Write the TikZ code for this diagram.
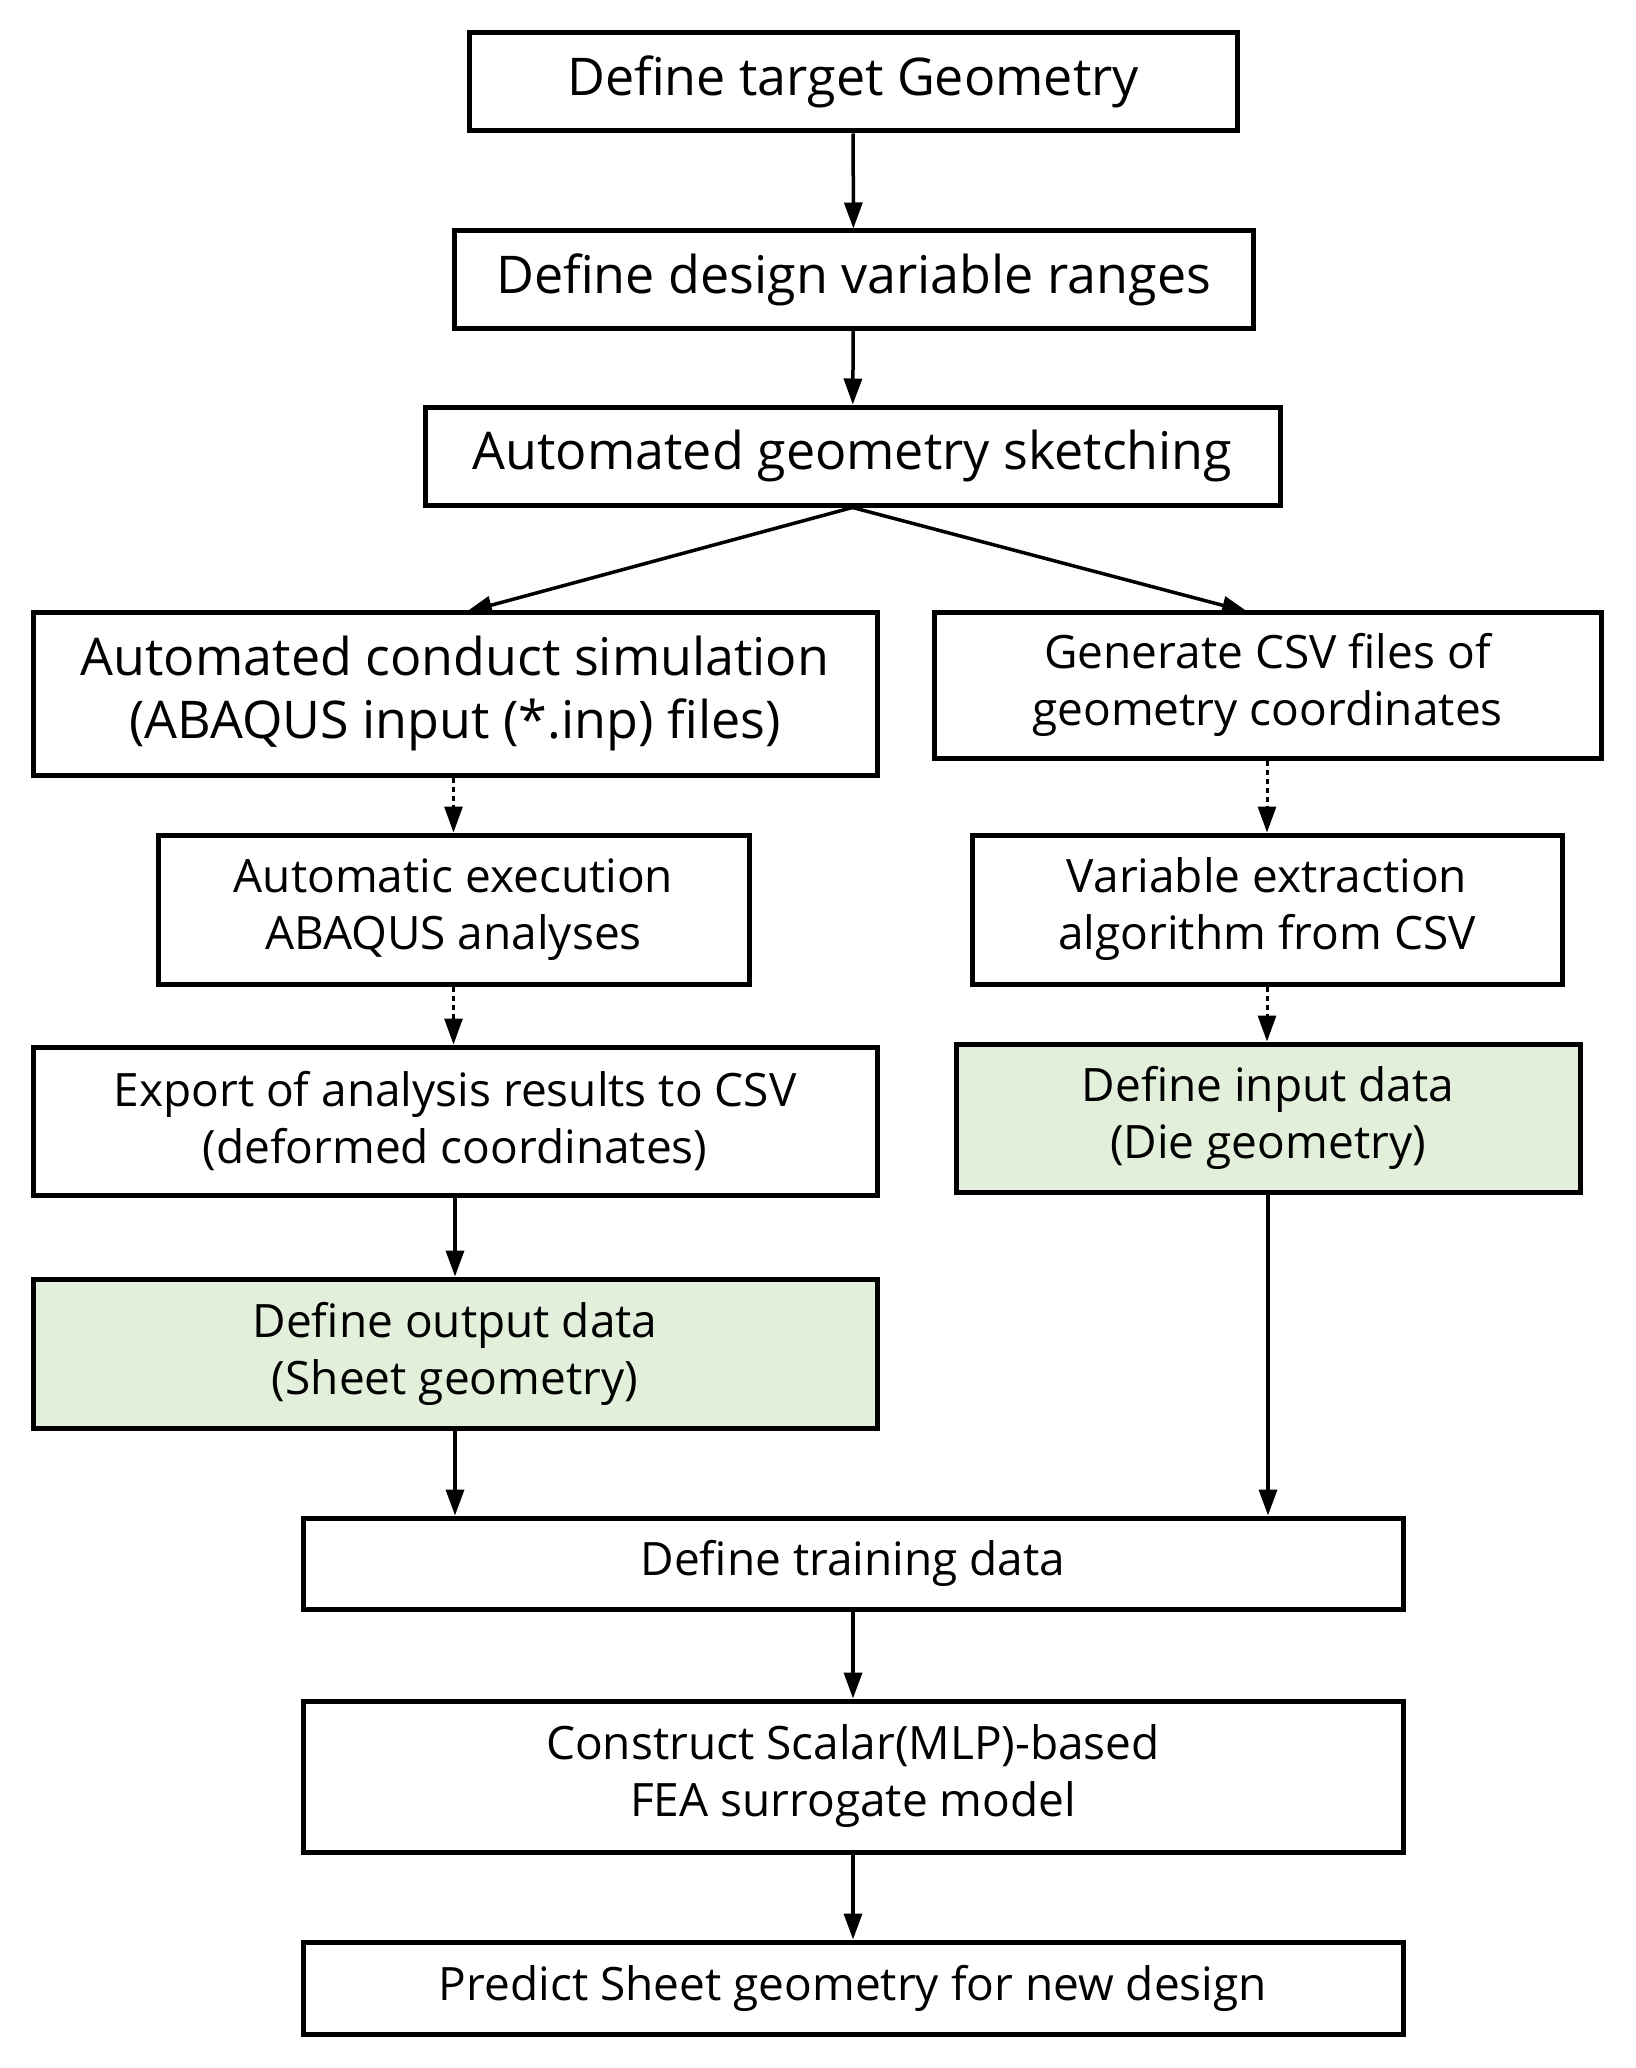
\documentclass[tikz,border=0pt]{standalone}
\usepackage{fontspec}
\setmainfont{Open Sans}
\usetikzlibrary{arrows.meta}
\definecolor{boxgreen}{HTML}{E2EFDA}
\tikzset{
  box/.style={draw=black, line width=5pt, rectangle, inner sep=0pt, align=center, fill=white},
  big/.style={font=\fontsize{52}{63}\selectfont},
  small/.style={font=\fontsize{46}{57}\selectfont},
  green/.style={fill=boxgreen},
  arr/.style={line width=3.5pt, -{Triangle[length=26pt,width=18pt]}},
  darr/.style={line width=3pt, dash pattern=on 5pt off 4pt, -{Triangle[length=26pt,width=18pt]}}
}
\begin{document}
\begin{tikzpicture}[x=1pt,y=-1pt]
\path[use as bounding box, fill=white] (0,0) rectangle (1635,2068);
\node[box,big,minimum width=768pt,minimum height=98pt] (b1) at (853,82) {Define target Geometry};
\node[box,big,minimum width=799pt,minimum height=97pt] (b2) at (853.5,279.5) {Define design variable ranges};
\node[box,big,minimum width=855pt,minimum height=98pt] (b3) at (852.5,456) {Automated geometry sketching};
\node[box,big,minimum width=844pt,minimum height=163pt] (b4) at (455,693.5) {Automated conduct simulation\\(ABAQUS input (*.inp) files)};
\node[box,small,minimum width=667pt,minimum height=146pt] (b5) at (1267.5,685) {Generate CSV files of\\geometry coordinates};
\node[box,small,minimum width=591pt,minimum height=149pt] (b6) at (453.5,909.5) {Automatic execution\\ABAQUS analyses};
\node[box,small,minimum width=590pt,minimum height=149pt] (b7) at (1267,909.5) {Variable extraction\\algorithm from CSV};
\node[box,small,minimum width=844pt,minimum height=148pt] (b8) at (455,1121) {Export of analysis results to CSV\\(deformed coordinates)};
\node[box,small,green,minimum width=624pt,minimum height=148pt] (b9) at (1268,1118) {Define input data\\(Die geometry)};
\node[box,small,green,minimum width=844pt,minimum height=149pt] (b10) at (455,1353.5) {Define output data\\(Sheet geometry)};
\node[box,small,minimum width=1100pt,minimum height=91pt] (b11) at (853,1563.5) {Define training data};
\node[box,small,minimum width=1100pt,minimum height=151pt] (b12) at (853,1776.5) {Construct Scalar(MLP)-based\\FEA surrogate model};
\node[box,small,minimum width=1100pt,minimum height=92pt] (b13) at (853,1988) {Predict Sheet geometry for new design};
\coordinate (t4) at (466,612);
\coordinate (t5) at (1248,612);
\draw[arr] (b1) -- (b2);
\draw[arr] (b2) -- (b3);
\draw[arr] (b3.south) -- (t4);
\draw[arr] (b3.south) -- (t5);
\draw[darr] (b4.south -| b6.north) -- (b6.north);
\draw[darr] (b5.south -| b7.north) -- (b7.north);
\draw[darr] (b6.south) -- (b6.south |- b8.north);
\draw[darr] (b7.south) -- (b7.south |- b9.north);
\draw[arr] (b8) -- (b10);
\draw[arr] (b10.south) -- (b10.south |- b11.north);
\draw[arr] (b9.south) -- (b9.south |- b11.north);
\draw[arr] (b11) -- (b12);
\draw[arr] (b12) -- (b13);
\end{tikzpicture}
\end{document}
